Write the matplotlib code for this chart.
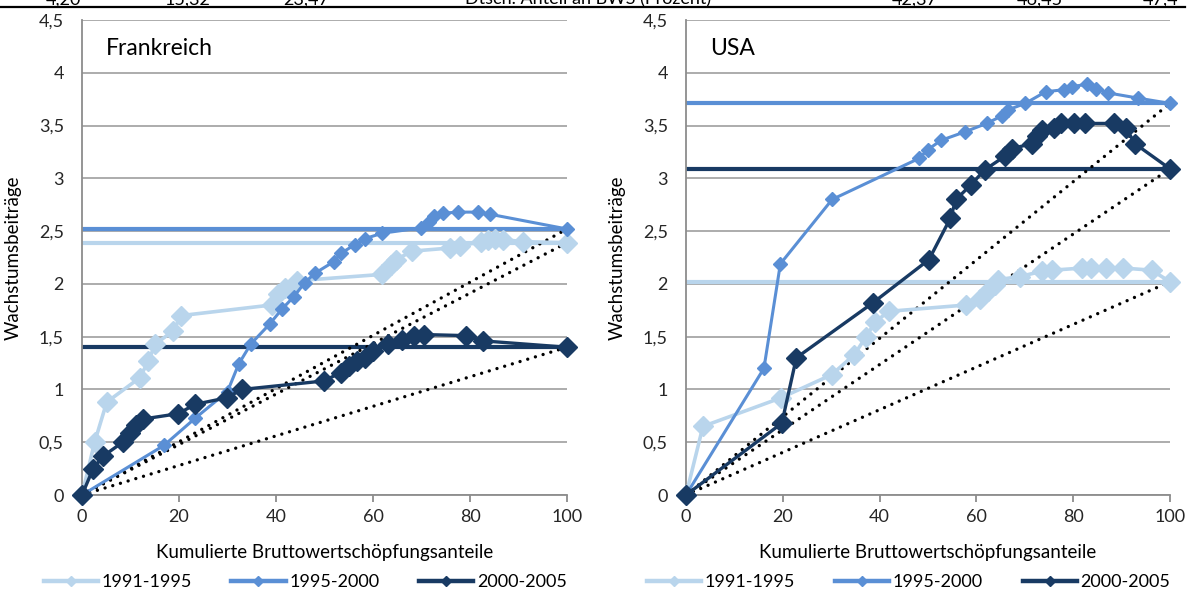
import numpy as np
import matplotlib.pyplot as plt
from matplotlib.lines import Line2D

plt.rcParams['font.family'] = ['Lato', 'DejaVu Sans']

perioden = ["1991-1995", "1995-2000", "2000-2005"]
farben = ["#B9D5EC", "#5A8FD5", "#183A63"]

# Frankreich
fr_x_9195 = [0, 2.6, 5.1, 11.9, 13.7, 15.1, 18.7, 20.5, 39.1, 40.5, 41.9, 44.4,
             61.9, 63.7, 64.8, 68.0, 75.9, 78.0, 82.3, 83.7, 85.1, 86.9, 90.9, 100]
fr_y_9195 = [0, 0.50, 0.88, 1.11, 1.27, 1.43, 1.55, 1.70, 1.80, 1.90, 1.96, 2.03,
             2.09, 2.18, 2.23, 2.31, 2.34, 2.36, 2.40, 2.42, 2.43, 2.42, 2.40, 2.39]
fr_x_9500 = [0, 16.9, 23.4, 30.0, 32.3, 34.8, 38.7, 41.2, 43.7, 45.9, 48.0, 51.9,
             53.4, 56.2, 58.4, 61.9, 69.8, 71.6, 72.6, 74.4, 77.6, 81.6, 84.1, 100]
fr_y_9500 = [0, 0.47, 0.73, 0.98, 1.24, 1.43, 1.62, 1.76, 1.88, 2.01, 2.10, 2.21,
             2.29, 2.37, 2.43, 2.48, 2.53, 2.59, 2.64, 2.67, 2.68, 2.68, 2.66, 2.52]
fr_x_0005 = [0, 2.3, 4.4, 8.4, 9.8, 11.2, 12.6, 19.8, 23.4, 29.8, 33.0, 49.8,
             53.4, 55.1, 56.6, 58.4, 60.1, 63.0, 65.9, 68.4, 70.6, 79.1, 82.7, 100]
fr_y_0005 = [0, 0.25, 0.37, 0.50, 0.59, 0.66, 0.72, 0.77, 0.86, 0.92, 1.00, 1.08,
             1.16, 1.22, 1.27, 1.30, 1.36, 1.43, 1.47, 1.51, 1.52, 1.51, 1.46, 1.40]
fr_mittel = [2.39, 2.52, 1.40]

# USA
us_x_9195 = [0, 3.5, 19.6, 30.1, 34.8, 37.2, 39.1, 41.9, 57.9, 60.7, 62.4, 63.8,
             64.5, 69.0, 73.6, 75.7, 81.9, 83.6, 86.8, 90.3, 96.2, 100]
us_y_9195 = [0, 0.65, 0.92, 1.14, 1.33, 1.50, 1.64, 1.74, 1.80, 1.86, 1.93, 1.99,
             2.04, 2.07, 2.12, 2.13, 2.15, 2.15, 2.15, 2.15, 2.13, 2.02]
us_x_9500 = [0, 16.1, 19.5, 30.2, 48.2, 49.9, 52.7, 57.6, 62.1, 65.2, 66.6, 70.1,
             74.3, 78.1, 79.8, 82.8, 84.7, 87.1, 93.4, 100]
us_y_9500 = [0, 1.20, 2.19, 2.80, 3.19, 3.27, 3.36, 3.44, 3.52, 3.59, 3.65, 3.71,
             3.82, 3.84, 3.87, 3.89, 3.85, 3.81, 3.76, 3.71]
us_x_0005 = [0, 19.8, 22.8, 38.6, 50.2, 54.6, 55.8, 58.9, 61.7, 65.9, 67.3, 71.5,
             72.5, 73.6, 76.0, 77.4, 80.2, 82.4, 88.5, 90.9, 92.7, 100]
us_y_0005 = [0, 0.68, 1.30, 1.82, 2.23, 2.62, 2.80, 2.94, 3.08, 3.21, 3.28, 3.33,
             3.40, 3.46, 3.48, 3.52, 3.52, 3.52, 3.52, 3.48, 3.33, 3.09]
us_mittel = [2.02, 3.71, 3.09]

y_ticks = [0, 0.5, 1, 1.5, 2, 2.5, 3, 3.5, 4, 4.5]
y_labels = ["0", "0,5", "1", "1,5", "2", "2,5", "3", "3,5", "4", "4,5"]
x_ticks = [0, 20, 40, 60, 80, 100]

# abgeschnittene Tabellenzeile oben
kopf_texte = ["4,20", "15,32", "23,47", "Dtsch. Anteil an BWS (Prozent)", "42,37", "46,45", "47,4"]
kopf_x = [46, 165, 283, 465, 892, 1017, 1143]

linien_lw = [2.6, 2.2, 2.4]
marker_ms = [10, 7, 10]

fig = plt.figure(figsize=(11.88, 5.94), dpi=100)

for t, px in zip(kopf_texte, kopf_x):
    fig.text(px / 1188, 1 - 4.5 / 594, t, fontsize=13, color="black", va="baseline")
fig.add_artist(plt.Line2D([0, 1185 / 1188], [1 - 7 / 594, 1 - 7 / 594], color="black", lw=1.6,
                          transform=fig.transFigure))


def panel(rect, titel, xs, ys, mittel):
    ax = fig.add_axes(rect)
    ax.set_xlim(0, 100)
    ax.set_ylim(0, 4.5)
    ax.set_yticks(y_ticks)
    ax.set_yticklabels(y_labels)
    ax.set_xticks(x_ticks)
    ax.grid(axis="y", color="#A6A6A6", lw=1.3)
    ax.set_axisbelow(True)
    for s in ["top", "right"]:
        ax.spines[s].set_visible(False)
    ax.spines["left"].set_color("#8C8C8C")
    ax.spines["bottom"].set_color("#8C8C8C")
    ax.spines["left"].set_linewidth(1.3)
    ax.spines["bottom"].set_linewidth(1.3)
    ax.tick_params(axis="y", length=0, pad=13, labelsize=13, labelcolor="#262626")
    ax.tick_params(axis="x", length=5, width=1.3, color="#8C8C8C", pad=5, labelsize=13,
                   labelcolor="#262626")

    # Mittelwerte und Diagonalen
    for m, c in zip(mittel, farben):
        ax.axhline(m, color=c, lw=3.0, zorder=2)
    for m in mittel:
        ax.plot([0, 100], [0, m], color="black", lw=2.4, linestyle=(0, (0.01, 2.4)),
                dash_capstyle="round", zorder=3)

    for i in range(3):
        ax.plot(xs[i], ys[i], color=farben[i], lw=linien_lw[i], marker="D", ms=marker_ms[i],
                zorder=4 + i, clip_on=False)

    ax.text(0.05, 0.941, titel, transform=ax.transAxes, fontsize=16.5, va="center", ha="left")
    ax.set_xlabel("Kumulierte Bruttowertschöpfungsanteile", fontsize=13.5, labelpad=14)
    ax.set_ylabel("Wachstumsbeiträge", fontsize=13.5)
    ax.yaxis.set_label_coords(-0.125, 0.5)
    griffe = [Line2D([], [], color=c, lw=3.2, marker="D", ms=5.5) for c in farben]
    ax.legend(griffe, perioden, loc="center", bbox_to_anchor=(0.46, -0.183), ncol=3,
              frameon=False, fontsize=13, handlelength=3.0, columnspacing=2.2, handletextpad=0.2)
    return ax


panel([82 / 1188, 1 - 495 / 594, 485 / 1188, 475 / 594], "Frankreich",
      [fr_x_9195, fr_x_9500, fr_x_0005], [fr_y_9195, fr_y_9500, fr_y_0005], fr_mittel)
panel([686 / 1188, 1 - 495 / 594, 484 / 1188, 475 / 594], "USA",
      [us_x_9195, us_x_9500, us_x_0005], [us_y_9195, us_y_9500, us_y_0005], us_mittel)

plt.savefig("out.png", dpi=100)
